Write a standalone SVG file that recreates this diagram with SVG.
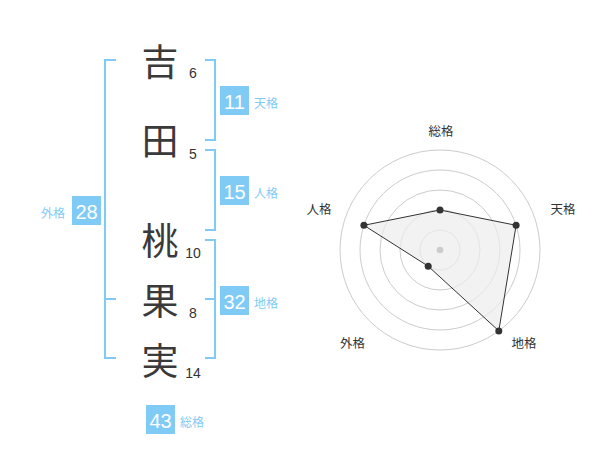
<svg xmlns="http://www.w3.org/2000/svg" width="600" height="470" viewBox="0 0 600 470">
<style>
.ch{font-family:"Noto Sans CJK JP","Noto Sans CJK SC",sans-serif;font-size:37px;font-weight:400;fill:#3a3a3a;text-anchor:middle}
.num{font-family:"Liberation Sans",Arial,sans-serif;font-size:14px;fill:#333;text-anchor:middle}
.br{fill:none;stroke:#80cbf6;stroke-width:2}
.box{fill:#80cbf6}
.bt{font-family:"Liberation Sans",Arial,sans-serif;font-size:20px;fill:#fff;text-anchor:middle}
.lb{font-family:"Noto Sans CJK JP","Noto Sans CJK SC",sans-serif;font-size:12px;fill:#80cbf6}
.rl{font-family:"Noto Sans CJK JP","Noto Sans CJK SC",sans-serif;font-size:12.5px;fill:#333;text-anchor:middle}
.ring{fill:none;stroke:#ccc;stroke-width:1}
.pt{fill:#333}
</style>
<rect width="600" height="470" fill="#fff"/>
<g id="chars">
<text class="ch" x="160" y="76">吉</text>
<text class="ch" x="160" y="155">田</text>
<text class="ch" x="160" y="255">桃</text>
<text class="ch" x="160" y="315">果</text>
<text class="ch" x="160" y="375">実</text>
<text class="num" x="193" y="78">6</text>
<text class="num" x="193" y="159">5</text>
<text class="num" x="193" y="258">10</text>
<text class="num" x="193" y="318">8</text>
<text class="num" x="193" y="378">14</text>
</g>
<g id="connectors">
<path class="br" d="M116,60H105V358H116M105,299H116"/>
<path class="br" d="M205,60H215V140H205"/>
<path class="br" d="M205,150H215V230H205"/>
<path class="br" d="M205,240H215V358H205M205,299H215"/>
</g>
<g id="tenkaku">
<rect class="box" x="220" y="86" width="29" height="29"/>
<text class="bt" x="234.5" y="109">11</text>
<text class="lb" x="254" y="108">天格</text>
</g>
<g id="jinkaku">
<rect class="box" x="220" y="176" width="29" height="29"/>
<text class="bt" x="234.5" y="199">15</text>
<text class="lb" x="254" y="198">人格</text>
</g>
<g id="gaikaku">
<rect class="box" x="72" y="196" width="29" height="29"/>
<text class="bt" x="86.5" y="219">28</text>
<text class="lb" x="41" y="218">外格</text>
</g>
<g id="chikaku">
<rect class="box" x="220" y="286" width="29" height="29"/>
<text class="bt" x="234.5" y="309">32</text>
<text class="lb" x="254" y="308">地格</text>
</g>
<g id="soukaku">
<rect class="box" x="146" y="405" width="29" height="29"/>
<text class="bt" x="160.5" y="428">43</text>
<text class="lb" x="180" y="427">総格</text>
</g>
<g id="radar">
<circle class="ring" cx="440" cy="250" r="20"/>
<circle class="ring" cx="440" cy="250" r="40"/>
<circle class="ring" cx="440" cy="250" r="60"/>
<circle class="ring" cx="440" cy="250" r="80"/>
<circle class="ring" cx="440" cy="250" r="100"/>
<polygon points="440,210 516.1,225.3 498.8,330.9 428.2,266.2 363.9,225.3" fill="#ececec" fill-opacity="0.7" stroke="#333" stroke-width="1"/>
<circle cx="440" cy="250" r="3.3" fill="#ccc"/>
<circle class="pt" cx="440" cy="210" r="3.5"/>
<circle class="pt" cx="516.1" cy="225.3" r="3.5"/>
<circle class="pt" cx="498.8" cy="330.9" r="3.5"/>
<circle class="pt" cx="428.2" cy="266.2" r="3.5"/>
<circle class="pt" cx="363.9" cy="225.3" r="3.5"/>
<text class="rl" x="441" y="136">総格</text>
<text class="rl" x="563" y="214">天格</text>
<text class="rl" x="319" y="214">人格</text>
<text class="rl" x="352.5" y="348">外格</text>
<text class="rl" x="524" y="348">地格</text>
</g>
</svg>
